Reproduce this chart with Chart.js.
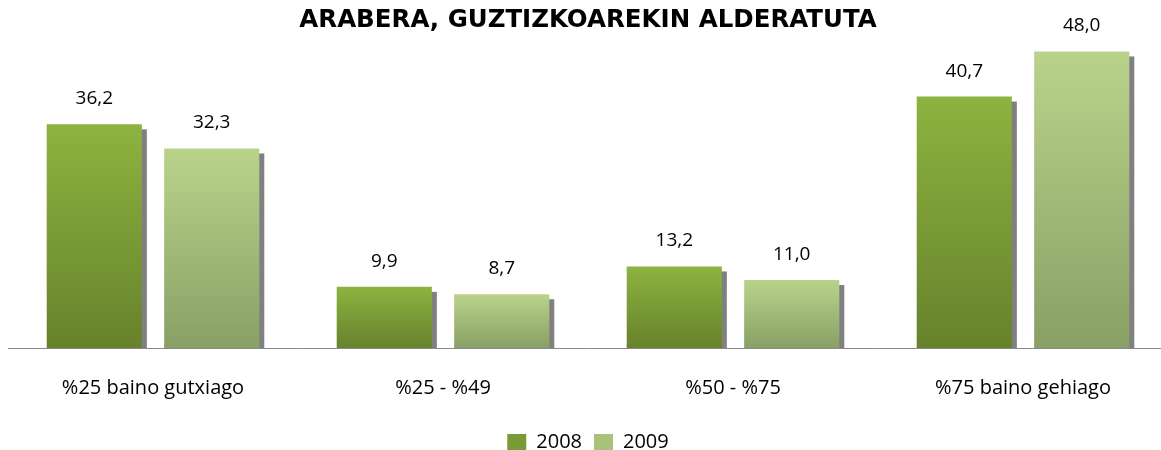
<!DOCTYPE html>
<html>
<head>
<meta charset="utf-8">
<script src="https://cdn.jsdelivr.net/npm/chart.js@4"></script>
<style>
  html, body { margin: 0; padding: 0; background: #fff; overflow: hidden; }
</style>
</head>
<body>
<canvas id="myChart" width="1168" height="462"></canvas>
<script>
const categories = ["%25 baino gutxiago", "%25 - %49", "%50 - %75", "%75 baino gehiago"];
const seriesNames = ["2008", "2009"];
const values2008 = [36.2, 9.9, 13.2, 40.7];
const values2009 = [32.3, 8.7, 11.0, 48.0];
const titleLines = ["ARABERA, GUZTIZKOAREKIN ALDERATUTA"];

// vertical gradient for each bar, from its top down to the axis
function makeGradient(topColour, bottomColour) {
  return (context) => {
    const chart = context.chart;
    const { ctx, chartArea, scales } = chart;
    if (!chartArea || context.type !== "data") return topColour;
    const yTop = scales.y.getPixelForValue(context.raw);
    const yBottom = scales.y.getPixelForValue(0);
    const g = ctx.createLinearGradient(0, yTop, 0, yBottom);
    g.addColorStop(0, topColour);
    g.addColorStop(1, bottomColour);
    return g;
  };
}

// grey drop shadow to the right / below each bar
const barShadow = {
  id: "barShadow",
  beforeDatasetsDraw(chart) {
    const ctx = chart.ctx;
    ctx.save();
    ctx.fillStyle = "#808080";
    chart.data.datasets.forEach((ds, i) => {
      chart.getDatasetMeta(i).data.forEach((bar) => {
        const half = bar.width / 2;
        ctx.fillRect(bar.x - half + 5, bar.y + 5, bar.width, bar.base - bar.y - 5);
      });
    });
    ctx.restore();
  },
};

// value labels above bars, comma decimal
const valueLabels = {
  id: "valueLabels",
  afterDatasetsDraw(chart) {
    const ctx = chart.ctx;
    ctx.save();
    ctx.font = "19px 'Open Sans'";
    ctx.fillStyle = "#000";
    ctx.textAlign = "center";
    ctx.textBaseline = "alphabetic";
    chart.data.datasets.forEach((ds, i) => {
      chart.getDatasetMeta(i).data.forEach((bar, j) => {
        const txt = ds.data[j].toFixed(1).replace(".", ",");
        ctx.fillText(txt, bar.x, bar.y - 20);
      });
    });
    ctx.restore();
  },
};

new Chart(document.getElementById("myChart"), {
  type: "bar",
  data: {
    labels: categories,
    datasets: [
      {
        label: seriesNames[0],
        data: values2008,
        backgroundColor: makeGradient("#8db33f", "#67822c"),
        borderWidth: 0,
        categoryPercentage: 0.81,
        barPercentage: 0.81,
      },
      {
        label: seriesNames[1],
        data: values2009,
        backgroundColor: makeGradient("#bad38b", "#88a065"),
        borderWidth: 0,
        categoryPercentage: 0.81,
        barPercentage: 0.81,
      },
    ],
  },
  options: {
    responsive: false,
    animation: false,
    maintainAspectRatio: false,
    layout: { padding: { left: 8, right: 0, top: 0, bottom: 0 } },
    scales: {
      x: {
        grid: { display: false },
        border: { display: true, color: "#8c8c8c", width: 1 },
        ticks: {
          color: "#000",
          font: { family: "'Open Sans'", size: 20 },
          padding: 20,
          maxRotation: 0,
        },
      },
      y: {
        display: false,
        min: 0,
        max: 50.6,
      },
    },
    plugins: {
      title: {
        display: true,
        text: titleLines,
        color: "#000",
        font: { family: "'DejaVu Sans'", size: 24.5, weight: "bold" },
        padding: { top: 6, bottom: 0 },
      },
      legend: {
        position: "bottom",
        labels: {
          color: "#000",
          font: { family: "'Open Sans'", size: 20 },
          boxWidth: 19,
          boxHeight: 16,
          padding: 12,
          generateLabels: (chart) =>
            chart.data.datasets.map((ds, i) => ({
              text: ds.label,
              fillStyle: i === 0 ? "#7a9a35" : "#a8c27b",
              strokeStyle: "transparent",
              lineWidth: 0,
              datasetIndex: i,
            })),
        },
      },
      tooltip: { enabled: false },
    },
  },
  plugins: [barShadow, valueLabels],
});
</script>
</body>
</html>
